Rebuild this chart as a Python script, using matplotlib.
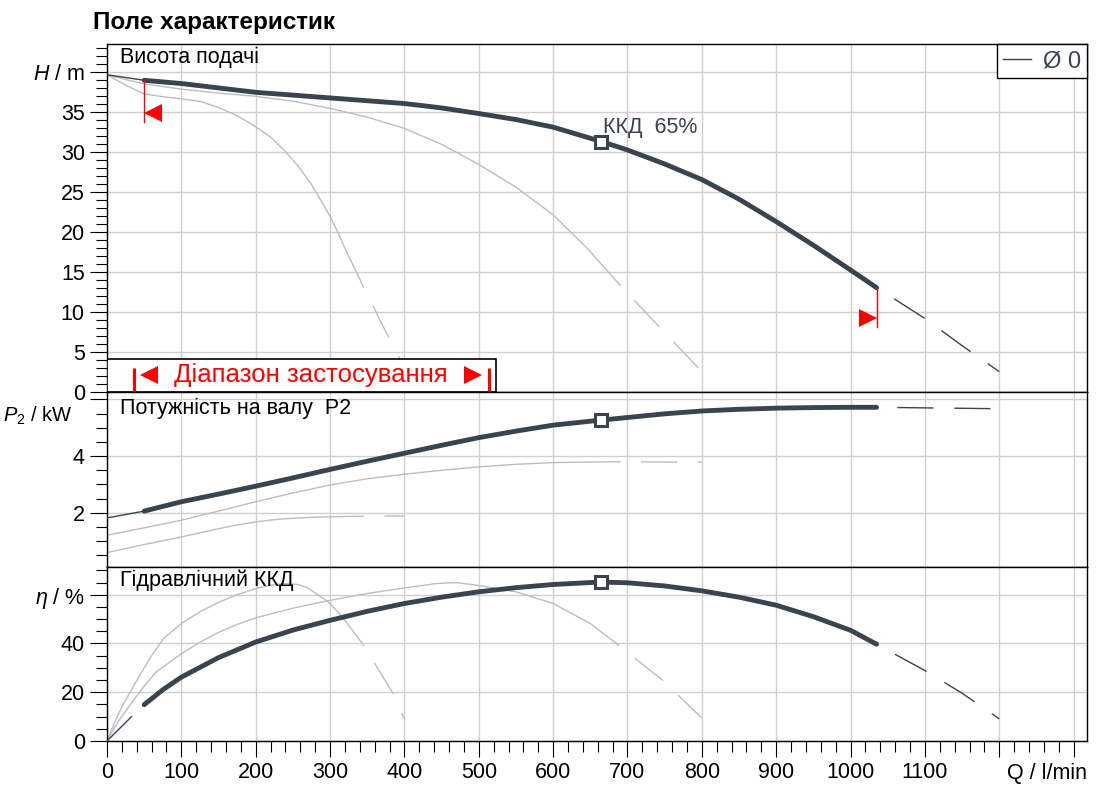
import numpy as np
import matplotlib.pyplot as plt
from matplotlib.lines import Line2D
from matplotlib.patches import Rectangle
import matplotlib.transforms as mtransforms

plt.rcParams['font.family'] = ['Liberation Sans', 'DejaVu Sans']
plt.rcParams['mathtext.fontset'] = 'custom'
plt.rcParams['mathtext.rm'] = 'Liberation Sans'
plt.rcParams['mathtext.it'] = 'Liberation Sans:italic'
plt.rcParams['lines.scale_dashes'] = False

DARK = '#3a4450'
GRAY = '#bdbdbd'
GRID = '#d0d0d0'
RED = '#ff0000'
DASH = (26, (26, 15))

# --- head H / m ---
q_h_start = [0, 50]
h_start = [39.6, 38.9]
q_h = [50, 100, 150, 200, 250, 300, 350, 400, 450, 500, 550, 600, 665, 700, 750,
       800, 850, 900, 950, 1000, 1035]
h_main = [38.9, 38.5, 37.95, 37.4, 37.05, 36.7, 36.35, 36.0, 35.45, 34.75, 34.0, 33.05,
          31.25, 30.2, 28.45, 26.5, 24.05, 21.25, 18.3, 15.2, 13.0]
q_h_ext = [1035, 1100, 1150, 1200]
h_ext = [13.0, 9.15, 5.75, 2.5]

q_h1 = [0, 25, 50, 75, 100, 126, 150, 175, 200, 220, 238, 256, 274, 287, 300, 312,
        323, 334, 345]
h_g1 = [39.6, 38.3, 37.2, 36.85, 36.6, 36.25, 35.5, 34.5, 33.1, 31.8, 30.2, 28.3,
        26.05, 24.0, 21.9, 19.6, 17.3, 15.2, 13.1]
q_h1_ext = [345, 370, 400]
h_g1_ext = [13.1, 8.4, 3.0]

q_h2 = [0, 25, 50, 100, 150, 200, 250, 300, 350, 400, 450, 500, 550, 600, 646, 690]
h_g2 = [39.6, 39.0, 38.45, 37.8, 37.3, 36.9, 36.3, 35.4, 34.3, 32.9, 30.9, 28.4,
        25.55, 22.1, 17.9, 13.3]
q_h2_ext = [690, 750, 800]
h_g2_ext = [13.3, 7.4, 2.5]

# --- shaft power P2 / kW ---
q_p_start = [0, 50]
p_start = [1.82, 2.06]
q_p = [50, 100, 150, 200, 250, 300, 350, 400, 450, 500, 550, 600, 650, 700, 750, 800,
       850, 900, 950, 1000, 1035]
p_main = [2.06, 2.39, 2.66, 2.94, 3.23, 3.53, 3.82, 4.10, 4.38, 4.65, 4.88, 5.09, 5.23,
          5.36, 5.49, 5.59, 5.65, 5.69, 5.71, 5.72, 5.72]
q_p_ext = [1035, 1100, 1200]
p_ext = [5.72, 5.70, 5.67]

q_p1 = [0, 50, 100, 148, 175, 200, 225, 250, 275, 300, 345]
p_g1 = [0.60, 0.88, 1.15, 1.43, 1.57, 1.68, 1.76, 1.81, 1.84, 1.86, 1.88]
q_p1_ext = [345, 400]
p_g1_ext = [1.88, 1.89]

q_p2 = [0, 50, 100, 150, 200, 250, 300, 350, 400, 450, 500, 550, 600, 650, 690]
p_g2 = [1.21, 1.47, 1.74, 2.06, 2.39, 2.70, 2.98, 3.20, 3.36, 3.50, 3.62, 3.71, 3.77,
        3.79, 3.80]
q_p2_ext = [690, 800]
p_g2_ext = [3.80, 3.78]

# --- hydraulic efficiency eta / % ---
q_e_start = [0, 33]
e_start = [0, 10]
q_e = [50, 75, 100, 150, 200, 250, 300, 350, 400, 450, 500, 550, 600, 650, 665, 700,
       750, 800, 850, 900, 950, 1000, 1035]
e_main = [14.9, 21.0, 26.2, 34.2, 40.6, 45.5, 49.5, 53.2, 56.4, 59.0, 61.2, 62.9, 64.2,
          65.0, 65.2, 64.9, 63.6, 61.6, 59.0, 55.7, 51.0, 45.4, 39.7]
q_e_ext = [1035, 1100, 1150, 1200]
e_ext = [39.7, 28.9, 19.6, 9.1]

q_e1 = [0, 10, 20, 30, 44, 60, 76, 100, 125, 151, 175, 200, 220, 241, 257, 270, 281,
        290, 300, 310, 321, 333, 345]
e_g1 = [0, 7.5, 14, 19.5, 26.9, 35, 42, 48.2, 53, 57, 60, 62.5, 63.9, 64.6, 64.2, 62.8,
        60.5, 58.7, 56.4, 53.0, 49.0, 44.3, 39.3]
q_e1_ext = [345, 385, 400]
e_g1_ext = [39.3, 19.4, 9.0]

q_e2 = [0, 15, 34, 50, 66, 100, 125, 151, 175, 200, 250, 300, 350, 400, 443, 470, 500,
        550, 600, 650, 688]
e_g2 = [0, 8, 16, 22.5, 28.3, 35.8, 40.5, 44.7, 47.8, 50.5, 54.5, 57.7, 60.5, 62.8,
        64.6, 65.0, 63.8, 61.2, 56.4, 48.2, 39.3]
q_e2_ext = [688, 749, 800]
e_g2_ext = [39.3, 24.5, 9.4]

# best efficiency point and application range
q_bep = 665
h_bep, p_bep, e_bep = 31.25, 5.27, 65.2
q_range = [50, 1035]

x_ticks = list(range(0, 1301, 100))
x_labels = [str(v) for v in range(0, 1101, 100)] + ['', '']

fig = plt.figure(figsize=(11.1, 7.96), dpi=100)
L, W = 107 / 1110, 980 / 1110
FS = 15.5


def fy(px):
    return 1 - px / 796


ax1 = fig.add_axes([L, fy(391.7), W, (391.7 - 44.3) / 796])
ax2 = fig.add_axes([L, fy(566.7), W, (566.7 - 391.7) / 796])
ax3 = fig.add_axes([L, fy(741.0), W, (741.0 - 566.7) / 796])


def style(ax, ylim, major, labels, minor):
    ax.set_xlim(0, 1318)
    ax.set_ylim(*ylim)
    ax.set_xticks(x_ticks)
    ax.set_xticks(range(0, 1301, 20), minor=True)
    ax.set_yticks(major)
    ax.set_yticklabels(labels)
    ax.set_yticks(minor, minor=True)
    ax.grid(True, which='major', color=GRID, lw=1.0)
    ax.set_axisbelow(True)
    ax.tick_params(axis='y', which='major', direction='out', length=12, width=0.8,
                   pad=4, labelsize=FS)
    ax.tick_params(axis='y', which='minor', direction='out', length=8, width=0.8)
    ax.tick_params(axis='x', which='both', bottom=False, labelbottom=False)
    for s in ax.spines.values():
        s.set_linewidth(1.0)


style(ax1, (0, 43.4), range(0, 41, 5),
      [str(v) for v in range(0, 36, 5)] + ['$H$ / m'], range(0, 44, 1))
style(ax2, (0.1, 6.27), [2, 4, 6], ['2', '4', ''], np.arange(0.5, 6.1, 0.5))
style(ax3, (0, 71.5), [0, 20, 40, 60], ['0', '20', '40', r'$\eta$ / %'], range(0, 71, 5))

ax3.tick_params(axis='x', which='both', bottom=True, labelbottom=True, direction='out')
ax3.tick_params(axis='x', which='major', length=11.5, width=0.8, pad=3.5, labelsize=FS)
ax3.tick_params(axis='x', which='minor', length=8, width=0.8)
ax3.set_xticklabels(x_labels)
ax3.text(1.0, -0.185, 'Q / l/min', transform=ax3.transAxes, ha='right', va='center',
         fontsize=FS)


def draw(ax, qs, ys, qm, ym, qe, ye, g1, g1e, g2, g2e, y_bep):
    for (q, y), (qx, yx) in ((g1, g1e), (g2, g2e)):
        ax.plot(q, y, color=GRAY, lw=1.0, zorder=2)
        ax.plot(qx, yx, color=GRAY, lw=1.0, ls=DASH, zorder=2)
    ax.plot(qs, ys, color=DARK, lw=1.0, zorder=3)
    ax.plot(qm, ym, color=DARK, lw=3.5, solid_capstyle='round',
            solid_joinstyle='round', zorder=4)
    ax.plot(qe, ye, color=DARK, lw=1.0, ls=DASH, zorder=3)
    ax.plot([q_bep], [y_bep], marker='s', ms=8, mew=2.2, mec=DARK, mfc='white',
            zorder=5)


draw(ax1, q_h_start, h_start, q_h, h_main, q_h_ext, h_ext,
     (q_h1, h_g1), (q_h1_ext, h_g1_ext), (q_h2, h_g2), (q_h2_ext, h_g2_ext), h_bep)
draw(ax2, q_p_start, p_start, q_p, p_main, q_p_ext, p_ext,
     (q_p1, p_g1), (q_p1_ext, p_g1_ext), (q_p2, p_g2), (q_p2_ext, p_g2_ext), p_bep)
draw(ax3, q_e_start, e_start, q_e, e_main, q_e_ext, e_ext,
     (q_e1, e_g1), (q_e1_ext, e_g1_ext), (q_e2, e_g2), (q_e2_ext, e_g2_ext), e_bep)

ax1.text(q_bep + 2, h_bep + 1.7, 'ККД  65%', color=DARK, fontsize=15.5, ha='left',
         va='center', zorder=6)

# application range limits
ax1.plot([q_range[0]] * 2, [h_main[0], 33.7], color=RED, lw=1.0, zorder=6)
ax1.plot([q_range[0] + 12], [34.8], marker='<', ms=13, color=RED, mew=0, zorder=6)
ax1.plot([q_range[1]] * 2, [h_main[-1], 8.1], color=RED, lw=1.0, zorder=6)
ax1.plot([q_range[1] - 12], [9.2], marker='>', ms=13, color=RED, mew=0, zorder=6)

# range box
ax1.add_patch(Rectangle((0, 0), 523.5, 4.05, facecolor='white', edgecolor='black',
                        lw=1.2, zorder=7))
for qb in (36, 513.5):
    ax1.plot([qb, qb], [0, 3.0], color=RED, lw=2.2, zorder=8, solid_capstyle='butt')
ax1.plot([56], [2.05], marker='<', ms=12.5, color=RED, mew=0, zorder=8)
ax1.plot([492], [2.05], marker='>', ms=12.5, color=RED, mew=0, zorder=8)
ax1.text(274, 2.05, 'Діапазон застосування', color=RED, fontsize=18.5,
         ha='center', va='center', zorder=8)

# panel titles
ax1.text(0.0133, 0.9635, 'Висота подачі', transform=ax1.transAxes, fontsize=FS,
         va='center', ha='left')
ax2.text(0.0133, 0.907, 'Потужність на валу  P2', transform=ax2.transAxes, fontsize=FS,
         va='center', ha='left')
ax3.text(0.0133, 0.924, 'Гідравлічний ККД', transform=ax3.transAxes, fontsize=FS,
         va='center', ha='left')

# unit label of the power panel
tr = mtransforms.blended_transform_factory(ax2.transAxes, ax2.transData)
ax2.text(-0.035, 5.42, '$P_2$ / kW', transform=tr, ha='right', va='center',
         fontsize=14.5)

leg = ax1.legend(handles=[Line2D([], [], color=DARK, lw=1.0)], labels=['Ø 0'],
                 loc='upper right', borderaxespad=0, fancybox=False, edgecolor='black',
                 framealpha=1, fontsize=17, handlelength=1.2, handletextpad=0.5,
                 borderpad=0.25, labelcolor=DARK)
leg.get_frame().set_linewidth(1.0)
leg.set_zorder(10)

fig.text(93 / 1110, fy(22), 'Поле характеристик', fontsize=17.5, fontweight='bold',
         ha='left', va='center')

fig.savefig('out.png', dpi=100)
